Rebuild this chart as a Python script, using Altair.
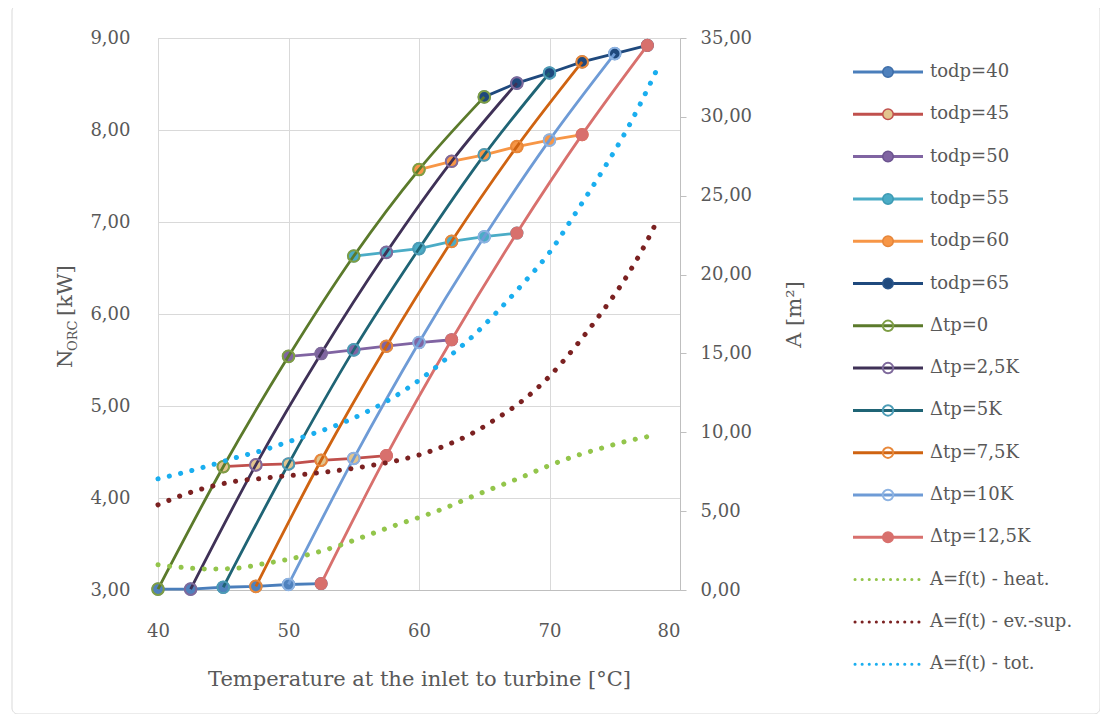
import altair as alt
import pandas as pd

FONT = "DejaVu Serif"
TXT = "#595959"

# ---------------- data ----------------
# N_ORC [kW] along lines of constant todp; t = inlet temperature [°C]
todp40_t = [40, 42.5, 45, 47.5, 50, 52.5]
todp40_N = [3.01, 3.01, 3.03, 3.04, 3.06, 3.07]
todp45_t = [45, 47.5, 50, 52.5, 55, 57.5]
todp45_N = [4.34, 4.36, 4.37, 4.41, 4.43, 4.46]
todp50_t = [50, 52.5, 55, 57.5, 60, 62.5]
todp50_N = [5.54, 5.57, 5.61, 5.65, 5.69, 5.72]
todp55_t = [55, 57.5, 60, 62.5, 65, 67.5]
todp55_N = [6.63, 6.67, 6.71, 6.79, 6.84, 6.88]
todp60_t = [60, 62.5, 65, 67.5, 70, 72.5]
todp60_N = [7.57, 7.66, 7.73, 7.82, 7.89, 7.95]
todp65_t = [65, 67.5, 70, 72.5, 75, 77.5]
todp65_N = [8.36, 8.51, 8.62, 8.74, 8.83, 8.92]

todp_labels = ["todp=40", "todp=45", "todp=50", "todp=55", "todp=60", "todp=65"]
dtp_labels = ["Δtp=0", "Δtp=2,5K", "Δtp=5K", "Δtp=7,5K", "Δtp=10K", "Δtp=12,5K"]

# heat-exchanger area trend lines A [m2]
A_t = [40, 42, 44, 46, 48, 50, 52, 54, 56, 58, 60, 62, 64, 66, 68, 70, 72, 74, 76, 78, 78.2]
A_heat = [1.60, 1.42, 1.33, 1.38, 1.65, 1.95, 2.35, 2.85, 3.45, 4.05, 4.60, 5.20, 5.90,
          6.55, 7.20, 7.90, 8.50, 9.00, 9.45, 9.80, 9.83]
A_evsup = [5.40, 6.05, 6.55, 6.90, 7.08, 7.25, 7.40, 7.60, 7.85, 8.15, 8.56, 9.15, 9.90,
           10.90, 12.05, 13.55, 15.45, 17.60, 20.00, 23.00, 23.35]
A_tot = [7.05, 7.45, 7.90, 8.40, 8.85, 9.40, 9.95, 10.55, 11.30, 12.20, 13.30, 14.60, 16.00,
         17.65, 19.45, 21.40, 23.90, 26.50, 29.30, 32.60, 32.95]
A_labels = ["A=f(t) - heat.", "A=f(t) - ev.-sup.", "A=f(t) - tot."]

todp_t = [todp40_t, todp45_t, todp50_t, todp55_t, todp60_t, todp65_t]
todp_N = [todp40_N, todp45_N, todp50_N, todp55_N, todp60_N, todp65_N]

# ---------------- styles ----------------
todp_style = [  # line, marker fill, marker stroke
    ("#4A7EBB", "#4F81BD", "#3D6DA8"),
    ("#C0504D", "#E2C58E", "#C0504D"),
    ("#8064A2", "#8064A2", "#6C5490"),
    ("#4BACC6", "#4BACC6", "#3C9AB3"),
    ("#F79646", "#F79646", "#E5853A"),
    ("#1F497D", "#1F497D", "#2A568C"),
]
dtp_style = [  # line, marker stroke, filled
    ("#5B7A2B", "#7E9E45", False),
    ("#3F3157", "#7F6A9C", False),
    ("#1F6475", "#4C9CB6", False),
    ("#CF6311", "#E8883A", False),
    ("#6E9BD6", "#8DB3E2", False),
    ("#D8706D", "#D8706D", True),
]
A_style = ["#93C54B", "#7B2121", "#1AAEEF"]

x_scale = alt.Scale(domain=[40, 80], nice=False, zero=False)
yl_scale = alt.Scale(domain=[3, 9], nice=False, zero=False)
yr_scale = alt.Scale(domain=[0, 35], nice=False, zero=True)

comma2 = "replace(format(datum.value, '.2f'), '.', ',')"

x_axis = alt.Axis(values=[40, 50, 60, 70, 80], grid=True, gridColor="#D9D9D9",
                  tickSize=0, labelPadding=32, domainColor="#BFBFBF", labelFlush=False,
                  labelAlign={"condition": {"test": "datum.value == 80", "value": "right"},
                              "value": "center"},
                  title="Temperature at the inlet to turbine [°C]",
                  titleY=95, titleBaseline="alphabetic")
yl_axis = alt.Axis(values=[3, 4, 5, 6, 7, 8, 9], grid=True, gridColor="#D9D9D9",
                   tickSize=0, labelPadding=28, domain=False, labelExpr=comma2, title=None)
yr_axis = alt.Axis(values=[0, 5, 10, 15, 20, 25, 30, 35], grid=False, orient="right",
                   tickSize=6, tickColor="#BFBFBF", domainColor="#BFBFBF",
                   labelPadding=14, labelExpr=comma2, title="A [m²]",
                   titleAngle=270, titleX=120, titleY=276, titleAlign="center",
                   titleBaseline="alphabetic")

def xenc():
    return alt.X("t:Q", scale=x_scale, axis=x_axis)

def yl():
    return alt.Y("v:Q", scale=yl_scale, axis=yl_axis)

def yr():
    return alt.Y("v:Q", scale=yr_scale, axis=yr_axis)

MS = 135
left_layers = []
for i in range(6):
    df = pd.DataFrame({"t": todp_t[i], "v": todp_N[i]})
    line, fill, stroke = todp_style[i]
    base = alt.Chart(df)
    left_layers.append(base.mark_line(color=line, strokeWidth=2.8).encode(x=xenc(), y=yl()))
    left_layers.append(base.mark_point(shape="circle", filled=True, fill=fill, stroke=stroke,
                                       strokeWidth=1.5, size=MS, opacity=1)
                       .encode(x=xenc(), y=yl()))
for k in range(6):
    df = pd.DataFrame({"t": [todp_t[j][k] for j in range(6)],
                       "v": [todp_N[j][k] for j in range(6)]})
    line, mstroke, filled = dtp_style[k]
    base = alt.Chart(df)
    left_layers.append(base.mark_line(color=line, strokeWidth=2.8, interpolate="monotone")
                       .encode(x=xenc(), y=yl()))
    if filled:
        pm = base.mark_point(shape="circle", filled=True, fill=mstroke, stroke=mstroke,
                             strokeWidth=1.5, size=MS, opacity=1)
    else:
        pm = base.mark_point(shape="circle", filled=False, color=mstroke,
                             strokeWidth=2, size=MS, opacity=1)
    left_layers.append(pm.encode(x=xenc(), y=yl()))

right_layers = []
for vals, col in zip([A_heat, A_evsup, A_tot], A_style):
    df = pd.DataFrame({"t": A_t, "v": vals})
    right_layers.append(alt.Chart(df).mark_line(color=col, strokeWidth=5, strokeDash=[0.1, 11.5],
                                                strokeCap="round", interpolate="monotone")
                        .encode(x=xenc(), y=yr()))

left = alt.layer(*left_layers)
right = alt.layer(*right_layers)

def one(label):
    return pd.DataFrame({"label": [label]})

# ---------------- manual legend ----------------
legend_layers = []
entries = []
for i in range(6):
    entries.append(("line", todp_labels[i], todp_style[i][0], todp_style[i][1], todp_style[i][2], True))
for k in range(6):
    line, ms, filled = dtp_style[k]
    entries.append(("line", dtp_labels[k], line, ms, ms, filled))
for k in range(3):
    entries.append(("dot", A_labels[k], A_style[k], None, None, None))

LX0, LX1, LXM, LXT = 695, 765, 730, 772
for i, (kind, label, col, fill, stroke, filled) in enumerate(entries):
    yy = 34 + 42.3 * i
    d = one(label)
    if kind == "line":
        legend_layers.append(alt.Chart(d).mark_rule(color=col, strokeWidth=3)
                             .encode(x=alt.value(LX0), x2=alt.value(LX1), y=alt.value(yy)))
        if filled:
            pm = alt.Chart(d).mark_point(shape="circle", filled=True, fill=fill, stroke=stroke,
                                         strokeWidth=1.5, size=110, opacity=1)
        else:
            pm = alt.Chart(d).mark_point(shape="circle", filled=False, color=stroke,
                                         strokeWidth=2, size=110, opacity=1)
        legend_layers.append(pm.encode(x=alt.value(LXM), y=alt.value(yy)))
    else:
        legend_layers.append(alt.Chart(d).mark_rule(color=col, strokeWidth=3, strokeDash=[0.1, 7],
                                                    strokeCap="round")
                             .encode(x=alt.value(LX0 + 2), x2=alt.value(LX1 - 2), y=alt.value(yy)))
    legend_layers.append(alt.Chart(d).mark_text(align="left", baseline="middle", font=FONT,
                                                fontSize=18, color=TXT)
                         .encode(x=alt.value(LXT), y=alt.value(yy), text="label:N"))

# ---------------- left axis title with subscript ----------------
TX = -86
title_layers = [
    alt.Chart(one("N")).mark_text(angle=270, align="left", baseline="alphabetic", font=FONT,
                                  fontSize=21, color=TXT)
    .encode(x=alt.value(TX), y=alt.value(330), text="label:N"),
    alt.Chart(one("ORC")).mark_text(angle=270, align="left", baseline="alphabetic", font=FONT,
                                    fontSize=13, color=TXT)
    .encode(x=alt.value(TX + 5), y=alt.value(313), text="label:N"),
    alt.Chart(one("[kW]")).mark_text(angle=270, align="left", baseline="alphabetic", font=FONT,
                                     fontSize=21, color=TXT)
    .encode(x=alt.value(TX), y=alt.value(278), text="label:N"),
]

border = alt.Chart(one("b")).mark_rect(fillOpacity=0, stroke="#D9D9D9", strokeWidth=1,
                                       cornerRadius=6).encode(
    x=alt.value(-146), x2=alt.value(942), y=alt.value(-33), y2=alt.value(676))

chart = alt.layer(border, left, right, *legend_layers, *title_layers).resolve_scale(
    y="independent"
).properties(
    width=522, height=552,
    autosize=alt.AutoSizeParams(type="none"),
    padding={"left": 150, "top": 30, "right": 420, "bottom": 124},
).configure_view(stroke=None).configure(background="white").configure_axis(
    labelFont=FONT, labelFontSize=18, labelColor=TXT,
    titleFont=FONT, titleFontSize=21, titleColor=TXT, titleFontWeight="normal",
)

chart.save("out.html", embed_options={"renderer": "svg", "actions": False})
